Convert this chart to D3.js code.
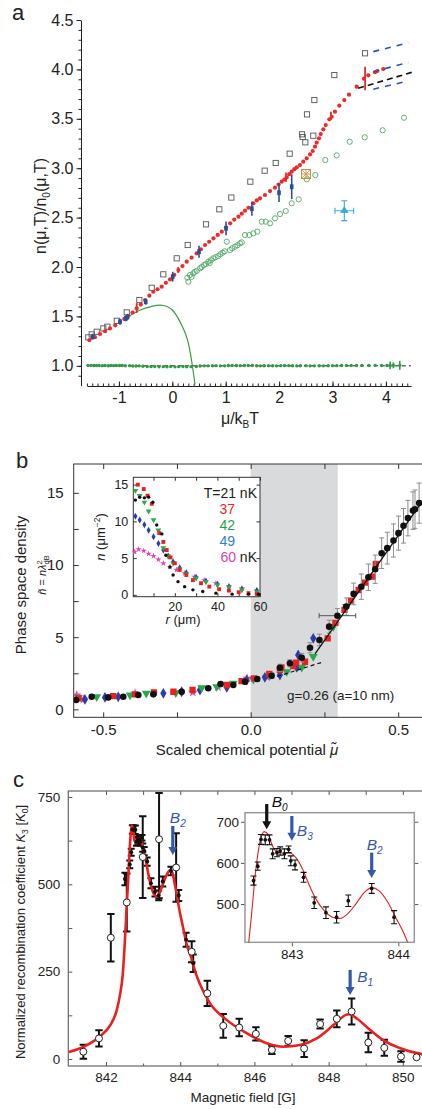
<!DOCTYPE html>
<html><head><meta charset="utf-8">
<script src="https://cdn.jsdelivr.net/npm/d3@7"></script>
<style>
body{margin:0;background:#fff;}
svg{display:block;}
</style></head><body>
<svg id="c" width="422" height="1109"></svg>
<script>
// ===================== DATA =====================
// ---- panel a ----
const aYTicks=[1.0,1.5,2.0,2.5,3.0,3.5,4.0,4.5];
const aXTicks=[-1,0,1,2,3,4];
const aRed=[[-1.554,1.261],[-1.45,1.29],[-1.354,1.322],[-1.26,1.35],[-1.167,1.379],[-1.07,1.41],[-0.979,1.447],[-0.9,1.475],[-0.824,1.504],[-0.745,1.54],[-0.667,1.582],[-0.59,1.62],[-0.511,1.666],[-0.43,1.71],[-0.355,1.75],[-0.277,1.775],[-0.199,1.801],[-0.12,1.84],[-0.043,1.875],[0.035,1.92],[0.113,1.97],[0.19,2.01],[0.27,2.054],[0.36,2.095],[0.457,2.139],[0.535,2.18],[0.613,2.223],[0.69,2.256],[0.77,2.29],[0.85,2.325],[0.926,2.358],[1.005,2.4],[1.083,2.442],[1.16,2.48],[1.239,2.51],[1.3,2.54],[1.361,2.57],[1.426,2.6],[1.517,2.645],[1.582,2.675],[1.642,2.695],[1.736,2.729],[1.83,2.769],[1.923,2.803],[1.99,2.835],[2.048,2.864],[2.1,2.885],[2.142,2.908],[2.19,2.94],[2.236,2.965],[2.285,2.99],[2.33,3.009],[2.391,3.032],[2.453,3.066],[2.517,3.1],[2.579,3.14],[2.629,3.174],[2.672,3.218],[2.704,3.258],[2.747,3.303],[2.779,3.346],[2.828,3.394],[2.873,3.437],[2.94,3.495],[2.985,3.521],[3.047,3.572],[3.127,3.633],[3.221,3.69],[3.309,3.744],[3.453,3.825],[3.59,3.906],[3.67,3.94],[3.796,3.971],[3.84,3.984],[3.95,4.004]];
const aRedErr=[[-0.667,1.585,0.05],[0.11,1.97,0.03],[2.13,2.91,0.047],[2.97,3.53,0.042],[3.61,3.908,0.118]];
const aBlue=[[-1.49,1.295,0.03],[-0.98,1.447,0.03],[-0.87,1.48,0.03],[-0.84,1.495,0.03],[-0.498,1.649,0.03],[0.007,1.902,0.05],[0.5,2.155,0.06],[1.006,2.392,0.07],[1.49,2.59,0.07],[1.998,2.752,0.095],[2.236,2.813,0.125]];
const aSquares=[[-1.573,1.288],[-1.51,1.318],[-1.416,1.345],[-1.292,1.379],[-1.217,1.396],[-1.04,1.456],[-0.854,1.541],[-0.618,1.666],[-0.386,1.79],[-0.169,1.926],[0.082,2.088],[0.288,2.223],[0.631,2.432],[0.88,2.584],[1.105,2.703],[1.461,2.864],[1.73,2.975],[1.936,3.053],[2.198,3.147],[2.429,3.343],[2.442,3.316],[2.491,3.262],[2.64,3.329],[2.522,3.545],[2.66,3.69],[3.034,3.943],[3.609,4.163]];
const aGreenOpen=[[0.3,1.851],[0.281,1.892],[0.331,1.919],[0.393,1.936],[0.457,1.96],[0.519,1.987],[0.594,2.02],[0.674,2.054],[0.768,2.088],[0.861,2.111],[0.944,2.145],[1.019,2.256],[1.08,2.172],[1.174,2.206],[1.268,2.24],[1.361,2.324],[1.442,2.324],[1.517,2.341],[1.592,2.358],[1.674,2.459],[1.749,2.459],[1.83,2.442],[1.923,2.493],[2.017,2.536],[2.124,2.567],[2.236,2.645],[2.367,2.685],[2.517,2.888],[2.678,2.931],[2.865,3.083],[3.079,3.13],[3.322,3.268],[3.603,3.313],[3.94,3.384],[4.339,3.511],[0.36,1.9],[0.42,1.95],[0.55,2.0],[0.63,2.03],[0.72,2.07],[0.81,2.1],[0.9,2.13],[1.12,2.19],[1.22,2.22],[1.3,2.25],[0.7,2.04],[0.98,2.16]];
const aOrange=[[2.504,2.941]];
const aCyan=[[3.221,2.57,0.175,0.1]];
const aGreenLine=[[-0.9,1.47],[-0.82,1.5],[-0.6,1.565],[-0.4,1.6],[-0.23,1.615],[-0.1,1.6],[0.0,1.565],[0.1,1.49],[0.18,1.405],[0.25,1.32],[0.3,1.23],[0.34,1.12],[0.37,1.02],[0.4,0.91],[0.425,0.81]];
const aFlat=[[-1.58,1.005],[-1.52,1.005],[-1.47,1.004],[-1.42,1.003],[-1.37,1.004],[-1.31,1.002],[-1.26,1.003],[-1.2,1.001],[-1.15,1.003],[-1.1,1.002],[-1.05,1.004],[-0.99,1.003],[-0.94,1.004],[-0.88,1.001],[-0.8,1.002],[-0.74,0.998],[-0.68,0.999],[-0.62,1.0],[-0.55,0.996],[-0.47,0.993],[-0.4,0.992],[-0.33,0.993],[-0.25,0.99],[-0.17,0.992],[-0.1,0.991],[-0.03,0.993],[0.05,0.99],[0.12,0.992],[0.2,0.993],[0.27,0.991],[0.35,0.992],[0.45,0.993],[0.52,0.998],[0.6,1.0],[0.67,1.0],[0.75,1.001],[0.82,1.002],[0.9,1.0],[0.98,1.0],[1.05,1.003],[1.12,1.004],[1.2,1.003],[1.27,1.002],[1.35,1.003],[1.42,1.004],[1.5,1.003],[1.58,1.001],[1.65,1.0],[1.72,1.001],[1.8,1.002],[1.88,1.001],[1.95,1.0],[2.03,1.002],[2.1,1.003],[2.18,1.002],[2.25,1.001],[2.33,1.0],[2.4,1.001],[2.5,1.002],[2.58,1.0],[2.66,1.0],[2.75,1.001],[2.83,1.0],[2.92,1.001],[3.0,1.002],[3.08,1.002],[3.17,1.003],[3.26,1.004],[3.35,1.004],[3.45,1.003],[3.55,1.004],[3.68,1.003],[3.8,1.005],[3.92,1.003],[4.02,1.004]];
const aFlatErr=[[4.08,1.005,0.04],[4.14,1.005,0.03],[4.26,1.005,0.045]];
const aRefLine=[[-1.6,1.0],[4.47,1.0]];
const aDashBlack=[[3.48,3.809],[4.483,3.97]];
const aDashBlue=[[[3.764,4.18],[4.42,4.27]],[[3.764,3.977],[4.42,4.07]],[[3.764,3.8],[4.42,3.883]]];

// ---- panel b ----
const bXTicks=[-0.5,-0.25,0,0.25,0.5];
const bYTicks=[0,2.5,5,7.5,10,12.5,15];
const bBand=[0,0.295];
const bBlack=[[-0.592,0.645,0],[-0.539,0.87,0],[-0.483,0.83,0],[-0.432,0.87,0],[-0.381,0.99,0],[-0.33,1.04,0],[-0.234,1.22,0],[-0.144,1.46,0],[-0.102,1.75,0.15],[-0.059,1.69,0],[-0.019,1.91,0.15],[0.022,2.1,0.15],[0.071,2.33,0.2],[0.099,2.88,0.25],[0.133,3.19,0.25],[0.173,3.58,0.3],[0.201,4.27,0.35],[0.233,4.81,0.4],[0.266,5.73,0.45],[0.294,6.49,0.5],[0.324,7.12,0.6],[0.349,8.0,0.75],[0.375,8.5,0.88],[0.399,9.15,0.92],[0.422,9.71,0.98],[0.444,10.82,1.06],[0.463,11.17,1.1],[0.484,11.7,1.15],[0.501,12.21,1.18],[0.518,12.72,1.2],[0.533,13.25,1.23],[0.55,13.77,1.3],[0.557,13.87,1.33],[0.571,14.29,1.39]];
const bXErr=[[0.294,6.49,0.062]];
const bRed=[[-0.584,0.76],[-0.466,0.92],[-0.392,1.04],[-0.328,1.18],[-0.262,1.22],[-0.197,1.34],[-0.081,1.69],[-0.031,1.96],[0.011,2.15],[0.063,2.45],[0.099,2.73],[0.104,2.91],[0.144,3.0],[0.154,3.23],[0.184,3.3],[0.261,4.92],[0.287,5.99],[0.318,6.89],[0.34,7.53],[0.366,8.27],[0.388,8.78],[0.413,9.2],[0.424,10.08]];
const bGreen=[[-0.584,0.83],[-0.522,0.87],[-0.409,0.99],[-0.354,1.11],[-0.254,1.15],[-0.166,1.5],[-0.115,1.57],[-0.059,1.8],[0.009,2.08],[0.065,2.33],[0.122,2.61],[0.173,2.91],[0.212,3.65],[0.28,5.73],[0.325,7.12]];
const bBlue=[[-0.562,0.69],[-0.494,0.83],[-0.449,0.87],[-0.296,1.11],[-0.234,1.22],[-0.172,1.34],[-0.081,1.53],[-0.014,2.03],[0.048,2.22],[0.099,2.38],[0.156,2.91],[0.161,3.77],[0.212,4.92]];
const bMag=[[-0.59,0.99],[-0.567,0.69],[-0.392,1.11],[-0.196,1.18],[-0.111,1.57],[-0.012,2.15],[0.054,2.26]];
const bSolid=[[0.218,3.85],[0.6,14.95]];
const bDash=[[0.09,2.28],[0.24,3.25]];
// inset b
const biXTicks=[10,20,30,40,50,60];
const biYTicks=[0,5,10,15];
const biRed=[[2.6,15.0],[5.4,14.4],[7.2,13.5],[9.2,12.4],[12.7,8.4],[14.6,7.2],[16.2,6.1],[18,5.1],[20,4.3],[22.3,3.4],[25.4,2.7],[28.5,2.0],[32.3,1.58],[36.2,1.12],[40.8,0.77],[45.4,0.58],[50,0.36],[54.6,0.23],[58.5,0.14]];
const biBlack=[[1.5,12.9],[3.5,13.3],[5.7,13.2],[7.7,13.3],[9.7,12.6],[11.5,9.5],[13.9,8.3],[15.8,5.4],[17.7,3.8],[19.2,2.7],[21.5,1.8],[24.6,1.12],[28.5,0.68],[33.1,0.45],[39.3,0.23],[46.9,0.1],[54.6,0.1],[59.3,0.1]];
const biGreen=[[1.5,14.2],[3.5,13.5],[5.7,12.6],[7.7,11.4],[10,10.2],[12.3,8.8],[14.6,6.4],[16.9,5.3],[19.2,4.3],[22.3,3.5],[25.4,2.84],[30,2.26],[34.6,1.8],[40,1.35],[45.4,1.04],[51.5,0.68],[58.5,0.45]];
const biBlue=[[1.5,10.7],[3.5,10.2],[5.7,9.55],[7.7,8.8],[10,7.9],[12.3,7.0],[14.6,6.1],[16.9,5.3],[19.2,4.5],[22.3,3.7],[25.4,3.0],[30,2.4],[34.6,1.9],[40,1.45],[45.4,1.12],[51.5,0.77],[58.5,0.58]];
const biMag=[[1.1,5.85],[3,6.2],[5.4,6.0],[7.7,5.6],[10,5.3],[12.3,4.8],[14.6,4.3],[17.7,3.8],[20.8,3.4],[24.6,2.93],[29.2,2.47],[33.8,2.0],[39.3,1.58],[45.4,1.22],[51.5,0.9],[58.5,0.58]];
const biLegend=[["37","#e8262a"],["42","#26a24a"],["49","#2f7fd0"]];

// ---- panel c ----
const cXTicks=[842,843,844,845,846,847,848,849,850];
const cYTicks=[0,125,250,375,500,625,750];
// open circles: [B, K, lo, hi]
const cOpen=[[841.39,21,1,41],[841.81,59,36,82],[842.13,347,279,415],[842.56,448,365,531],[842.99,578,461,695],[843.43,629,460,761],[843.89,548,450,646],[844.31,307,277,337],[844.73,188,152,224],[845.16,95,61,129],[845.59,90,65,115],[846.04,72,53,91],[846.47,26,14,38],[846.91,52,38,66],[847.34,30,6,54],[847.77,100,87,113],[848.22,115,91,139],[848.62,136,99,173],[849.07,47,19,75],[849.5,32,9,55],[849.95,7,-8,22],[850.37,5,5,5]];
// filled dots: [B, K, err]
const cDots=[[842.64,557,11],[842.68,592,10],[842.71,657,12],[842.75,656,12],[842.79,656,12],[842.82,622,12],[842.86,625,10],[842.89,629,10],[842.93,622,12],[842.97,633,8],[842.99,605,12],[843.03,595,12],[843.11,565,12],[843.21,503,14],[843.32,479,14],[843.42,468,14],[843.53,508,14],[843.75,538,12],[843.96,468,16]];
const cDotsMainOnly=[[842.51,515,18],[844.16,341,20],[844.35,274,25]];
const cFit=[[841.0,20],[841.4,35],[841.84,65],[842.11,96],[842.29,140],[842.38,185],[842.45,240],[842.5,320],[842.55,420],[842.6,520],[842.65,620],[842.69,668],[842.72,660],[842.77,625],[842.81,618],[842.86,628],[842.91,632],[842.96,622],[843.06,575],[843.19,505],[843.3,470],[843.38,465],[843.46,480],[843.55,505],[843.64,528],[843.72,540],[843.78,535],[843.86,497],[843.99,420],[844.08,375],[844.17,330],[844.3,290],[844.42,245],[844.53,215],[844.8,160],[845.25,112],[845.79,74],[846.33,45],[846.78,35],[847.23,40],[847.68,59],[848.13,97],[848.44,125],[848.55,128],[848.76,116],[849.12,83],[849.47,54],[849.93,31],[850.51,14],[850.7,11]];
const ciXTicks=[843,844];
const ciYTicks=[500,600,700];
const cInsetFit=[[842.58,370],[842.62,470],[842.66,580],[842.7,650],[842.74,676],[842.78,668],[842.82,640],[842.86,627],[842.92,624],[842.98,624],[843.04,612],[843.1,585],[843.16,548],[843.22,515],[843.3,485],[843.38,468],[843.45,465],[843.52,475],[843.6,500],[843.68,528],[843.75,540],[843.82,532],[843.9,505],[843.98,465],[844.05,430],[844.12,385],[844.16,360]];
// arrows: [B, K_top, K_tip, subscript]
const cArrowsMain=[[843.8,667,584,"2"],[848.58,255,183,"1"]];
const cArrowsInset=[[842.764,743,682,"0"],[843.0,714,654,"3"],[843.75,625,563,"2"]];

// ===================== DRAW =====================
const FF="Arial, 'Liberation Sans', Helvetica, sans-serif";
const svg=d3.select("#c").attr("font-family",FF);
svg.append("rect").attr("width",422).attr("height",1109).attr("fill","#fff");
const TXT="#222";

function st(g,fs,col){
  g.attr("font-family",FF).attr("font-size",fs);
  g.selectAll("line").attr("stroke",col||"#222");
  g.select(".domain").attr("stroke",col||"#222");
  g.selectAll("text").attr("fill",TXT);
}
function noDomain(g){g.select(".domain").remove();}

// ---------- Panel a ----------
const xA=d3.scaleLinear().domain([-1.6,4.47]).range([86.9,411]);
const yA=d3.scaleLinear().domain([0.8,4.5]).range([385.6,20]);
const A=svg.append("g");
A.append("g").attr("transform","translate(81,0)")
 .call(d3.axisLeft(yA).tickValues(aYTicks).tickSize(4.5).tickSizeOuter(0).tickPadding(3).tickFormat(d=>d.toFixed(1)))
 .call(g=>st(g,16));
A.append("g").attr("transform","translate(81,0)")
 .call(d3.axisLeft(yA).tickValues(d3.range(0.9,4.46,0.1)).tickSize(2.5).tickSizeOuter(0).tickFormat(""))
 .call(g=>st(g,16)).call(noDomain);
A.append("g").attr("transform","translate(0,386)")
 .call(d3.axisBottom(xA).tickValues(aXTicks).tickSize(-4.5).tickSizeOuter(0).tickPadding(6).tickFormat(d=>String(d)))
 .call(g=>st(g,16));
A.append("g").attr("transform","translate(0,386)")
 .call(d3.axisBottom(xA).tickValues(d3.range(-1.6,4.45,0.1)).tickSize(-2.5).tickSizeOuter(0).tickFormat(""))
 .call(g=>st(g,16)).call(noDomain);

const lineA=d3.line().x(d=>xA(d[0])).y(d=>yA(d[1]));
A.append("g").selectAll("rect").data(aSquares).join("rect")
 .attr("x",d=>xA(d[0])-2.6).attr("y",d=>yA(d[1])-2.6).attr("width",5.2).attr("height",5.2)
 .attr("fill","none").attr("stroke","#555").attr("stroke-width",0.9);
A.append("g").selectAll("circle").data(aGreenOpen).join("circle")
 .attr("cx",d=>xA(d[0])).attr("cy",d=>yA(d[1])).attr("r",2.6)
 .attr("fill","none").attr("stroke","#52a865").attr("stroke-width",0.9);
A.append("path").attr("d",lineA(aRefLine)).attr("stroke","#222").attr("stroke-width",1).attr("stroke-dasharray","4,3").attr("fill","none");
A.append("g").selectAll("circle").data(aFlat).join("circle")
 .attr("cx",d=>xA(d[0])).attr("cy",d=>yA(d[1])).attr("r",1.7).attr("fill","#2f9a40");
A.append("g").selectAll("g").data(aFlatErr).join("g").each(function(d){
  const g=d3.select(this), x=xA(d[0]);
  g.append("line").attr("x1",x).attr("x2",x).attr("y1",yA(d[1]-d[2])).attr("y2",yA(d[1]+d[2])).attr("stroke","#2f9a40").attr("stroke-width",1.6);
  g.append("circle").attr("cx",x).attr("cy",yA(d[1])).attr("r",1.6).attr("fill","#2f9a40");
});
A.append("path").attr("d",d3.line().x(d=>xA(d[0])).y(d=>yA(d[1])).curve(d3.curveMonotoneX)(aGreenLine)).attr("stroke","#3b9a3f").attr("stroke-width",1.2).attr("fill","none");
A.append("g").selectAll("circle").data(aRed).join("circle")
 .attr("cx",d=>xA(d[0])).attr("cy",d=>yA(d[1])).attr("r",2.1).attr("fill","#ec2a2a");
A.append("g").selectAll("line").data(aRedErr).join("line")
 .attr("x1",d=>xA(d[0])).attr("x2",d=>xA(d[0])).attr("y1",d=>yA(d[1]-d[2])).attr("y2",d=>yA(d[1]+d[2]))
 .attr("stroke","#ec2a2a").attr("stroke-width",1.8);
A.append("g").selectAll("g").data(aBlue).join("g").each(function(d){
  const g=d3.select(this), x=xA(d[0]);
  g.append("line").attr("x1",x).attr("x2",x).attr("y1",yA(d[1]-d[2])).attr("y2",yA(d[1]+d[2])).attr("stroke","#2a4d9c").attr("stroke-width",1.6);
  g.append("rect").attr("x",x-1.8).attr("y",yA(d[1])-2.4).attr("width",3.6).attr("height",4.8).attr("fill","#2a4d9c");
});
A.append("g").selectAll("g").data(aOrange).join("g").each(function(d){
  const g=d3.select(this), x=xA(d[0]), y=yA(d[1]), s=4.5, c="#c98a3c";
  g.append("rect").attr("x",x-s).attr("y",y-s).attr("width",2*s).attr("height",2*s).attr("fill","none").attr("stroke",c).attr("stroke-width",1);
  g.append("path").attr("d",`M${x-s},${y-s}L${x+s},${y+s}M${x+s},${y-s}L${x-s},${y+s}M${x},${y-s}L${x},${y+s}M${x-s},${y}L${x+s},${y}`).attr("stroke",c).attr("stroke-width",0.8);
});
A.append("g").selectAll("g").data(aCyan).join("g").each(function(d){
  const g=d3.select(this), x=xA(d[0]), y=yA(d[1]), c="#3ba7de";
  const x1=xA(d[0]-d[2]), x2=xA(d[0]+d[2]), y1=yA(d[1]-d[3]), y2=yA(d[1]+d[3]);
  g.append("path").attr("d",`M${x1},${y}L${x2},${y}M${x1},${y-3}L${x1},${y+3}M${x2},${y-3}L${x2},${y+3}M${x},${y1}L${x},${y2}M${x-3},${y1}L${x+3},${y1}M${x-3},${y2}L${x+3},${y2}`).attr("stroke",c).attr("stroke-width",1.1).attr("fill","none");
  g.append("path").attr("transform",`translate(${x},${y})`).attr("d",d3.symbol().type(d3.symbolTriangle).size(30)()).attr("fill",c);
});
A.append("path").attr("d",lineA(aDashBlack)).attr("stroke","#111").attr("stroke-width",1.6).attr("stroke-dasharray","6,4").attr("fill","none");
aDashBlue.forEach(l=>A.append("path").attr("d",lineA(l)).attr("stroke","#2a55b0").attr("stroke-width",1.6).attr("stroke-dasharray","6,6").attr("fill","none"));
A.append("text").attr("x",12).attr("y",20).attr("font-size",22).attr("fill",TXT).text("a");
const aYt=A.append("text").attr("transform","translate(46,206) rotate(-90)").attr("text-anchor","middle").attr("font-size",16).attr("fill",TXT);
aYt.append("tspan").text("n(μ,T)/n");
aYt.append("tspan").attr("font-size",10).attr("dy",4).text("0");
aYt.append("tspan").attr("dy",-4).text("(μ,T)");
const aXt=A.append("text").attr("x",240).attr("y",424).attr("text-anchor","middle").attr("font-size",16).attr("fill",TXT);
aXt.append("tspan").text("μ/k");
aXt.append("tspan").attr("font-size",10).attr("dy",4).text("B");
aXt.append("tspan").attr("dy",-4).text("T");

// ---------- Panel b ----------
const xB=d3.scaleLinear().domain([-0.6,0.6]).range([73.7,427.7]);
const yB=d3.scaleLinear().domain([-0.55,17]).range([717.3,464]);
const B=svg.append("g");
svg.append("clipPath").attr("id","clipB").append("rect").attr("x",73.7).attr("y",464).attr("width",354).attr("height",253.3);
B.append("rect").attr("x",xB(bBand[0])).attr("y",464).attr("width",xB(bBand[1])-xB(bBand[0])).attr("height",253.3).attr("fill","#d9dadc");
const bFmt=d=>(Math.abs(d*2-Math.round(d*2))<1e-6)?d.toFixed(1):"";
B.append("g").attr("transform","translate(0,717.3)")
 .call(d3.axisBottom(xB).tickValues(bXTicks).tickSize(-5).tickSizeOuter(0).tickPadding(7).tickFormat(bFmt))
 .call(g=>st(g,15,"#333")).call(noDomain);
B.append("g").attr("transform","translate(0,464)")
 .call(d3.axisTop(xB).tickValues(bXTicks).tickSize(-5).tickSizeOuter(0).tickFormat(""))
 .call(g=>st(g,15,"#333")).call(noDomain);
B.append("g").attr("transform","translate(73.7,0)")
 .call(d3.axisLeft(yB).tickValues(bYTicks).tickSize(-5).tickSizeOuter(0).tickPadding(10).tickFormat(d=>d%5===0?String(d):""))
 .call(g=>st(g,15,"#333")).call(noDomain);
B.append("rect").attr("x",73.7).attr("y",464).attr("width",354).attr("height",253.3).attr("fill","none").attr("stroke","#333").attr("stroke-width",1);

const PB=B.append("g").attr("clip-path","url(#clipB)");
const symAt=d=>`translate(${xB(d[0])},${yB(d[1])})`;
PB.append("g").selectAll("path").data(bMag).join("path").attr("transform",symAt).attr("d",d3.symbol().type(d3.symbolStar).size(30)()).attr("fill","#e044b4");
PB.append("g").selectAll("path").data(bBlue).join("path").attr("transform",symAt).attr("d",d3.symbol().type(d3.symbolDiamond).size(34)()).attr("fill","#2b3ea8");
PB.append("g").selectAll("path").data(bGreen).join("path").attr("transform",d=>`translate(${xB(d[0])},${yB(d[1])}) rotate(180)`).attr("d",d3.symbol().type(d3.symbolTriangle).size(34)()).attr("fill","#2aa84e");
PB.append("g").selectAll("path").data(bRed).join("path").attr("transform",symAt).attr("d",d3.symbol().type(d3.symbolSquare).size(40)()).attr("fill","#e52222");
PB.append("g").selectAll("path").data(bBlack.filter(d=>d[2]>0)).join("path")
 .attr("d",d=>{const x=xB(d[0]),y1=yB(d[1]-d[2]),y2=yB(d[1]+d[2]);return `M${x},${y1}L${x},${y2}M${x-2.5},${y1}L${x+2.5},${y1}M${x-2.5},${y2}L${x+2.5},${y2}`;})
 .attr("stroke","#8c8c8c").attr("stroke-width",1).attr("fill","none");
PB.append("g").selectAll("path").data(bXErr).join("path")
 .attr("d",d=>{const y=yB(d[1]),x1=xB(d[0]-d[2]),x2=xB(d[0]+d[2]);return `M${x1},${y}L${x2},${y}M${x1},${y-2.5}L${x1},${y+2.5}M${x2},${y-2.5}L${x2},${y+2.5}`;})
 .attr("stroke","#555").attr("stroke-width",1).attr("fill","none");
PB.append("g").selectAll("circle").data(bBlack).join("circle").attr("cx",d=>xB(d[0])).attr("cy",d=>yB(d[1])).attr("r",3.3).attr("fill","#111");
const lineB=d3.line().x(d=>xB(d[0])).y(d=>yB(d[1]));
PB.append("path").attr("d",lineB(bSolid)).attr("stroke","#111").attr("stroke-width",1.3).attr("fill","none");
PB.append("path").attr("d",lineB(bDash)).attr("stroke","#111").attr("stroke-width",1.2).attr("stroke-dasharray","4,3").attr("fill","none");
B.append("text").attr("x",287).attr("y",700).attr("font-size",13.5).attr("fill",TXT).text("g=0.26 (a=10 nm)");

// inset b
const xI=d3.scaleLinear().domain([0.5,60]).range([133.3,260]);
const yI=d3.scaleLinear().domain([-0.25,16]).range([596.7,477.3]);
const I=B.append("g");
I.append("rect").attr("x",133.3).attr("y",477.3).attr("width",126.7).attr("height",119.4).attr("fill","#fff");
I.append("g").attr("transform","translate(0,596.7)")
 .call(d3.axisBottom(xI).tickValues(biXTicks).tickSize(-3.5).tickSizeOuter(0).tickPadding(5).tickFormat(d=>d%20===0?String(d):""))
 .call(g=>st(g,12.5,"#333")).call(noDomain);
I.append("g").attr("transform","translate(0,477.3)")
 .call(d3.axisTop(xI).tickValues(biXTicks).tickSize(-3.5).tickSizeOuter(0).tickFormat(""))
 .call(g=>st(g,12.5,"#333")).call(noDomain);
I.append("g").attr("transform","translate(133.3,0)")
 .call(d3.axisLeft(yI).tickValues(biYTicks).tickSize(-3.5).tickSizeOuter(0).tickPadding(5).tickFormat(d=>String(d)))
 .call(g=>st(g,12.5,"#333")).call(noDomain);
I.append("g").attr("transform","translate(260,0)")
 .call(d3.axisRight(yI).tickValues(biYTicks).tickSize(-3.5).tickSizeOuter(0).tickFormat(""))
 .call(g=>st(g,12.5,"#333")).call(noDomain);
I.append("rect").attr("x",133.3).attr("y",477.3).attr("width",126.7).attr("height",119.4).attr("fill","none").attr("stroke","#333").attr("stroke-width",1);
const iAt=d=>`translate(${xI(d[0])},${yI(d[1])})`;
I.append("g").selectAll("path").data(biMag).join("path").attr("transform",iAt).attr("d",d3.symbol().type(d3.symbolStar).size(12)()).attr("fill","#e044b4");
I.append("g").selectAll("path").data(biBlue).join("path").attr("transform",iAt).attr("d",d3.symbol().type(d3.symbolDiamond).size(14)()).attr("fill","#2b3ea8");
I.append("g").selectAll("path").data(biGreen).join("path").attr("transform",d=>iAt(d)+" rotate(180)").attr("d",d3.symbol().type(d3.symbolTriangle).size(14)()).attr("fill","#2aa84e");
I.append("g").selectAll("path").data(biRed).join("path").attr("transform",iAt).attr("d",d3.symbol().type(d3.symbolSquare).size(15)()).attr("fill","#e52222");
I.append("g").selectAll("circle").data(biBlack).join("circle").attr("cx",d=>xI(d[0])).attr("cy",d=>yI(d[1])).attr("r",1.7).attr("fill","#111");
const iy=I.append("text").attr("transform","translate(105,537) rotate(-90)").attr("text-anchor","middle").attr("font-size",13).attr("fill",TXT);
iy.append("tspan").attr("font-style","italic").text("n");
iy.append("tspan").text(" (μm");
iy.append("tspan").attr("font-size",8.5).attr("dy",-5).text("−2");
iy.append("tspan").attr("dy",5).text(")");
const ix=I.append("text").attr("x",183).attr("y",624).attr("text-anchor","middle").attr("font-size",13).attr("fill",TXT);
ix.append("tspan").attr("font-style","italic").text("r");
ix.append("tspan").text(" (μm)");
I.append("text").attr("x",257).attr("y",498).attr("text-anchor","end").attr("font-size",14).attr("fill",TXT).text("T=21 nK");
biLegend.forEach((d,i)=>I.append("text").attr("x",235).attr("y",513.5+i*16).attr("text-anchor","end").attr("font-size",14).attr("fill",d[1]).text(d[0]));
const l60=I.append("text").attr("x",257).attr("y",561.5).attr("text-anchor","end").attr("font-size",14).attr("fill",TXT);
l60.append("tspan").attr("fill","#d444b0").text("60");
l60.append("tspan").text(" nK");

B.append("text").attr("x",16).attr("y",468).attr("font-size",22).attr("fill",TXT).text("b");
B.append("text").attr("transform","translate(26,585) rotate(-90)").attr("text-anchor","middle").attr("font-size",15).attr("fill",TXT).text("Phase space density");
const nt=B.append("text").attr("transform","translate(46,575) rotate(-90)").attr("text-anchor","middle").attr("font-size",11).attr("fill",TXT);
nt.append("tspan").attr("font-style","italic").text("ñ");
nt.append("tspan").text(" = ");
nt.append("tspan").attr("font-style","italic").text("nλ");
nt.append("tspan").attr("font-size",7.5).attr("dy",-4).text("2");
nt.append("tspan").attr("font-size",7.5).attr("dx",-4).attr("dy",7).text("dB");
const bxt=B.append("text").attr("x",247).attr("y",755).attr("text-anchor","middle").attr("font-size",15).attr("fill",TXT);
bxt.append("tspan").text("Scaled chemical potential ");
bxt.append("tspan").attr("font-style","italic").text("μ̃");

// ---------- Panel c ----------
const xC=d3.scaleLinear().domain([841,850.6]).range([68.9,425.1]);
const yC=d3.scaleLinear().domain([-20,767]).range([1066,791]);
const C=svg.append("g");
svg.append("clipPath").attr("id","clipC").append("rect").attr("x",68.3).attr("y",791).attr("width",360).attr("height",275);
const cFmtX=d=>d%2===0?String(d):"";
C.append("g").attr("transform","translate(0,1066)")
 .call(d3.axisBottom(xC).tickValues(cXTicks).tickSize(-4).tickSizeOuter(0).tickPadding(6).tickFormat(cFmtX))
 .call(g=>st(g,13.5,"#555")).call(noDomain);
C.selectAll("g.tick").filter(d=>d%2!==0).select("line").attr("y2",-2.5);
C.append("g").attr("transform","translate(0,791)")
 .call(d3.axisTop(xC).tickValues(cXTicks).tickSize(-4).tickSizeOuter(0).tickFormat(""))
 .call(g=>st(g,13.5,"#555")).call(noDomain);
C.append("g").attr("transform","translate(68.3,0)")
 .call(d3.axisLeft(yC).tickValues(cYTicks).tickSize(-4).tickSizeOuter(0).tickPadding(8).tickFormat(d=>d%250===0?String(d):""))
 .call(g=>st(g,13.5,"#555")).call(noDomain);
C.append("rect").attr("x",68.3).attr("y",791).attr("width",360).attr("height",275).attr("fill","none").attr("stroke","#666").attr("stroke-width",1.2);
const PC=C.append("g").attr("clip-path","url(#clipC)");
const lineC=d3.line().x(d=>xC(d[0])).y(d=>yC(d[1])).curve(d3.curveMonotoneX);
function ebar(g,x,y1,y2,w,col,sw){
  g.append("path").attr("d",`M${x},${y1}L${x},${y2}M${x-w},${y1}L${x+w},${y1}M${x-w},${y2}L${x+w},${y2}`).attr("stroke",col).attr("stroke-width",sw).attr("fill","none");
}
const cAllDots=cDots.concat(cDotsMainOnly);
cAllDots.forEach(d=>ebar(PC,xC(d[0]),yC(d[1]-d[2]),yC(d[1]+d[2]),3.5,"#111",2));
cOpen.forEach(d=>{if(d[3]>d[2]) ebar(PC,xC(d[0]),yC(d[2]),yC(d[3]),3.7,"#111",2);});
PC.append("path").attr("d",lineC(cFit)).attr("stroke","#e8201f").attr("stroke-width",2.6).attr("fill","none");
PC.append("g").selectAll("circle").data(cAllDots).join("circle").attr("cx",d=>xC(d[0])).attr("cy",d=>yC(d[1])).attr("r",2).attr("fill","#111");
PC.append("g").selectAll("circle").data(cOpen).join("circle").attr("cx",d=>xC(d[0])).attr("cy",d=>yC(d[1])).attr("r",3.5).attr("fill","#fff").attr("stroke","#222").attr("stroke-width",1);

function arrow(g,x,yTop,yTip,col){
  g.append("line").attr("x1",x).attr("x2",x).attr("y1",yTop).attr("y2",yTip-7).attr("stroke",col).attr("stroke-width",3.2);
  g.append("path").attr("d",`M${x-4.5},${yTip-8}L${x+4.5},${yTip-8}L${x},${yTip}Z`).attr("fill",col);
}
function blabel(g,x,y,sub,col){
  const t=g.append("text").attr("x",x).attr("y",y).attr("font-size",15.5).attr("font-style","italic").attr("fill",col);
  t.append("tspan").text("B");
  t.append("tspan").attr("font-size",10).attr("dy",4).text(sub);
}
const BLUE="#3558aa";
const mOff=[[-3,-3],[7,12]];
cArrowsMain.forEach((d,i)=>{const x=xC(d[0]),t=yC(d[1]);arrow(C,x,t,yC(d[2]),BLUE);blabel(C,x+mOff[i][0],t+mOff[i][1],d[3],BLUE);});

// inset c
const xCI=d3.scaleLinear().domain([842.56,844.15]).range([245,414.3]);
const yCI=d3.scaleLinear().domain([407,722]).range([942.3,812.7]);
const CI=C.append("g");
CI.append("rect").attr("x",245).attr("y",812.7).attr("width",169.3).attr("height",129.6).attr("fill","#fff");
CI.append("g").attr("transform","translate(0,942.3)")
 .call(d3.axisBottom(xCI).tickValues(ciXTicks).tickSize(4).tickSizeOuter(0).tickPadding(3).tickFormat(d=>String(d)))
 .call(g=>st(g,13.5,"#555")).call(noDomain);
CI.append("g").attr("transform","translate(245,0)")
 .call(d3.axisLeft(yCI).tickValues(ciYTicks).tickSize(4).tickSizeOuter(0).tickPadding(2).tickFormat(d=>String(d)))
 .call(g=>st(g,13.5,"#555")).call(noDomain);
CI.append("g").attr("transform","translate(414.3,0)")
 .call(d3.axisRight(yCI).tickValues(ciYTicks).tickSize(4).tickSizeOuter(0).tickFormat(""))
 .call(g=>st(g,13.5,"#555")).call(noDomain);
CI.append("rect").attr("x",245).attr("y",812.7).attr("width",169.3).attr("height",129.6).attr("fill","none").attr("stroke","#999").attr("stroke-width",1.5);
svg.append("clipPath").attr("id","clipCI").append("rect").attr("x",245).attr("y",812.7).attr("width",169.3).attr("height",129.6);
const PCI=CI.append("g").attr("clip-path","url(#clipCI)");
const lineCI=d3.line().x(d=>xCI(d[0])).y(d=>yCI(d[1])).curve(d3.curveMonotoneX);
PCI.append("path").attr("d",lineCI(cInsetFit)).attr("stroke","#e8201f").attr("stroke-width",1.1).attr("fill","none");
cDots.forEach(d=>ebar(PCI,xCI(d[0]),yCI(d[1]-d[2]),yCI(d[1]+d[2]),3,"#111",1.1));
PCI.append("g").selectAll("circle").data(cDots).join("circle").attr("cx",d=>xCI(d[0])).attr("cy",d=>yCI(d[1])).attr("r",1.9).attr("fill","#111");
const iCol=["#111",BLUE,BLUE];
const iOff=[[5,3],[5,20],[-5,-3]];
cArrowsInset.forEach((d,i)=>{const x=xCI(d[0]),t=yCI(d[1]);arrow(C,x,t,yCI(d[2]),iCol[i]);blabel(C,x+iOff[i][0],t+iOff[i][1],d[3],iCol[i]);});

C.append("text").attr("x",13).attr("y",787).attr("font-size",22).attr("fill",TXT).text("c");
const cyt=C.append("text").attr("transform","translate(25,932) rotate(-90)").attr("text-anchor","middle").attr("font-size",13).attr("fill",TXT);
cyt.append("tspan").text("Normalized recombination coefficient ");
cyt.append("tspan").attr("font-style","italic").text("K");
cyt.append("tspan").attr("font-size",8.5).attr("dy",3).text("3");
cyt.append("tspan").attr("dy",-3).text(" [");
cyt.append("tspan").attr("font-style","italic").text("K");
cyt.append("tspan").attr("font-size",8.5).attr("dy",3).text("0");
cyt.append("tspan").attr("dy",-3).text("]");
C.append("text").attr("x",243).attr("y",1102).attr("text-anchor","middle").attr("font-size",13.5).attr("fill",TXT).text("Magnetic field [G]");
</script>
</body></html>
